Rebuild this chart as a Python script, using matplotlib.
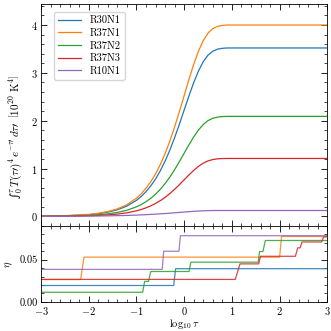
import matplotlib
matplotlib.use("Agg")
import matplotlib.pyplot as plt
from matplotlib.ticker import MultipleLocator, FormatStrFormatter

plt.rcParams.update({
    "font.family": ["cmr10", "DejaVu Serif"],
    "mathtext.fontset": "cm",
    "axes.formatter.use_mathtext": True,
    "font.size": 8,
    "axes.unicode_minus": True,
})

# ---- upper panel data: cumulative integral [1e20 K^4] vs log10 tau ----
logtau_top = [-3, -2.5, -2, -1.8, -1.6, -1.4, -1.2, -1.0, -0.9, -0.8, -0.7, -0.6,
              -0.5, -0.4, -0.3, -0.2, -0.1, 0.0, 0.1, 0.2, 0.3, 0.4, 0.5, 0.6,
              0.7, 0.8, 0.9, 1.0, 1.5, 2.0, 2.5, 3.0]
R30N1 = [0.0035, 0.011, 0.035, 0.056, 0.088, 0.137, 0.215, 0.334, 0.415, 0.517, 0.637, 0.781,
         0.954, 1.155, 1.387, 1.647, 1.929, 2.225, 2.520, 2.798, 3.041, 3.235, 3.372, 3.453,
         3.496, 3.513, 3.52, 3.52, 3.52, 3.52, 3.52, 3.52]
R37N1 = [0.004, 0.013, 0.04, 0.064, 0.1, 0.156, 0.244, 0.38, 0.472, 0.588, 0.724, 0.888,
         1.084, 1.312, 1.576, 1.872, 2.192, 2.528, 2.864, 3.18, 3.456, 3.676, 3.832, 3.924,
         3.972, 3.992, 4.0, 4.0, 4.0, 4.0, 4.0, 4.0]
R37N2 = [0.002, 0.0067, 0.021, 0.033, 0.052, 0.082, 0.127, 0.199, 0.247, 0.307, 0.378, 0.464,
         0.566, 0.686, 0.823, 0.978, 1.145, 1.321, 1.496, 1.662, 1.806, 1.921, 2.002, 2.050,
         2.075, 2.086, 2.09, 2.09, 2.09, 2.09, 2.09, 2.09]
R37N3 = [0.0012, 0.0039, 0.012, 0.019, 0.030, 0.047, 0.074, 0.115, 0.143, 0.178, 0.219, 0.269,
         0.328, 0.397, 0.477, 0.566, 0.663, 0.765, 0.866, 0.962, 1.045, 1.112, 1.159, 1.187,
         1.202, 1.208, 1.21, 1.21, 1.21, 1.21, 1.21, 1.21]
R10N1 = [0.0, 0.002, 0.005, 0.007, 0.010, 0.014, 0.019, 0.026, 0.030, 0.035, 0.040, 0.046,
         0.052, 0.059, 0.066, 0.074, 0.082, 0.090, 0.098, 0.105, 0.111, 0.116, 0.119, 0.121,
         0.122, 0.122, 0.122, 0.122, 0.122, 0.122, 0.122, 0.122]

# ---- lower panel data: eta step functions (vertices) ----
eta_x_R30N1 = [-3, -0.22, -0.18, 3]
eta_y_R30N1 = [0.0194, 0.0194, 0.0393, 0.0393]
eta_x_R37N1 = [-3, -2.17, -2.10, 2.0, 2.04, 3]
eta_y_R37N1 = [0.0265, 0.0265, 0.053, 0.053, 0.0775, 0.0775]
eta_x_R37N2 = [-3, -0.87, -0.83, -0.75, -0.70, 0.10, 0.14, 1.55, 1.58, 1.65, 1.70, 3]
eta_y_R37N2 = [0.0114, 0.0114, 0.0242, 0.0242, 0.036, 0.036, 0.047, 0.047, 0.0596, 0.0596, 0.0727, 0.0727]
eta_x_R37N3 = [-3, 1.07, 1.17, 1.56, 1.60, 2.33, 2.38, 2.43, 2.47, 2.88, 2.92, 3]
eta_y_R37N3 = [0.0266, 0.0266, 0.045, 0.045, 0.054, 0.054, 0.064, 0.064, 0.071, 0.071, 0.077, 0.077]
eta_x_R10N1 = [-3, -0.46, -0.43, -0.11, -0.08, 3]
eta_y_R10N1 = [0.0385, 0.0385, 0.060, 0.060, 0.0784, 0.0784]

labels = ["R30N1", "R37N1", "R37N2", "R37N3", "R10N1"]
colors = ["#1f77b4", "#ff7f0e", "#2ca02c", "#d62728", "#9467bd"]
top_series = [R30N1, R37N1, R37N2, R37N3, R10N1]
eta_series = [(eta_x_R30N1, eta_y_R30N1), (eta_x_R37N1, eta_y_R37N1),
              (eta_x_R37N2, eta_y_R37N2), (eta_x_R37N3, eta_y_R37N3),
              (eta_x_R10N1, eta_y_R10N1)]

fig = plt.figure(figsize=(3.31, 3.31), dpi=100)
gs = fig.add_gridspec(2, 1, height_ratios=[222, 76], hspace=0,
                      left=0.124, right=0.989, top=0.988, bottom=0.088)
ax1 = fig.add_subplot(gs[0])
ax2 = fig.add_subplot(gs[1], sharex=ax1)

for y, lab, c in zip(top_series, labels, colors):
    ax1.plot(logtau_top, y, color=c, lw=0.9, label=lab)
for (ex, ey), c in zip(eta_series, colors):
    ax2.plot(ex, ey, color=c, lw=0.9, alpha=0.85)

ax1.set_xlim(-3, 3)
ax1.set_ylim(-0.2, 4.44)
ax2.set_ylim(0, 0.09)

for ax in (ax1, ax2):
    ax.tick_params(which="both", direction="in", top=True, right=True, labelsize=7.5, pad=2.5)
    ax.tick_params(which="major", length=4, width=0.6)
    ax.tick_params(which="minor", length=2, width=0.5)
    for s in ax.spines.values():
        s.set_linewidth(0.6)
ax1.xaxis.set_major_locator(MultipleLocator(1))
ax1.xaxis.set_minor_locator(MultipleLocator(0.2))
ax1.yaxis.set_major_locator(MultipleLocator(1))
ax1.yaxis.set_minor_locator(MultipleLocator(0.2))
ax2.yaxis.set_major_locator(MultipleLocator(0.05))
ax2.yaxis.set_minor_locator(MultipleLocator(0.01))
ax2.yaxis.set_major_formatter(FormatStrFormatter("%.2f"))
plt.setp(ax1.get_xticklabels(), visible=False)

ax1.set_ylabel("\u222b" + r"$_0^{\tau}\, T(\tau\prime)^4\, e^{-\tau\prime}\, d\tau\prime\;\; \left[10^{20}\ \mathrm{K}^4\right]$",
               fontsize=8, family=["DejaVu Serif"])
ax2.set_ylabel(r"$\eta$", fontsize=7.5)
ax2.set_xlabel(r"$\log_{10}\tau$", fontsize=7.5)
ax1.yaxis.set_label_coords(-0.06, 0.40)
ax2.yaxis.set_label_coords(-0.092, 0.5)
ax2.xaxis.set_label_coords(0.5, -0.2)

ax1.legend(loc="upper left", bbox_to_anchor=(0.045, 0.965), fontsize=7.5,
           handlelength=2.2, labelspacing=0.3, frameon=True, borderaxespad=0.0)

fig.savefig("out.png", dpi=100)
